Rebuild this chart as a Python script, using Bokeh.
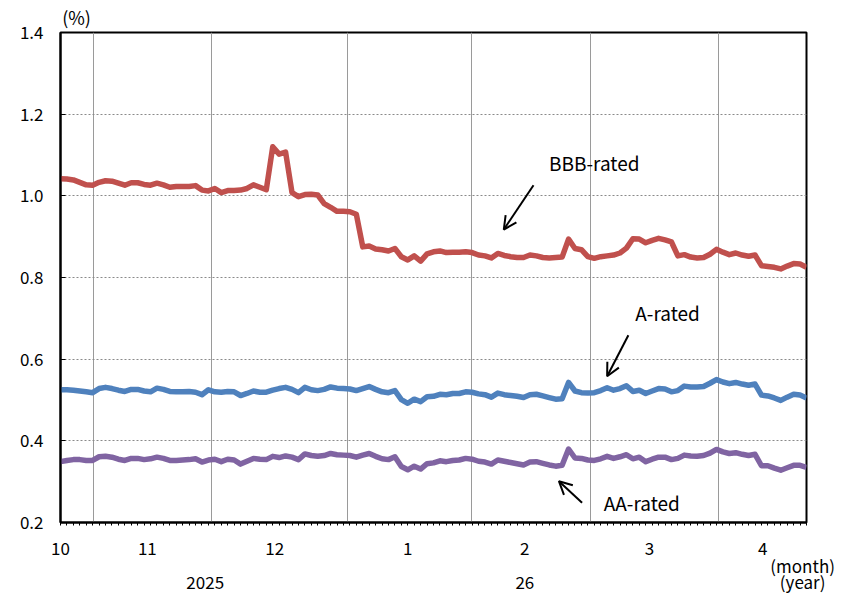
from bokeh.plotting import figure
from bokeh.models import FixedTicker, Range1d, Label, Arrow, OpenHead, NumeralTickFormatter, LinearAxis
from bokeh.embed import file_html
from bokeh.resources import INLINE

# ---- data (business-day series, Oct 2025 - Apr 2026) ----
bbb_rated = [1.042, 1.041, 1.039, 1.033, 1.027, 1.026, 1.033, 1.037, 1.036, 1.031,
             1.026, 1.032, 1.032, 1.028, 1.026, 1.031, 1.027, 1.021, 1.023, 1.023,
             1.023, 1.025, 1.014, 1.012, 1.018, 1.008, 1.013, 1.013, 1.014, 1.018,
             1.027, 1.021, 1.015, 1.120, 1.102, 1.107, 1.008, 0.998, 1.003, 1.004,
             1.002, 0.981, 0.972, 0.962, 0.962, 0.961, 0.955, 0.875, 0.877, 0.870,
             0.868, 0.865, 0.871, 0.851, 0.843, 0.853, 0.840, 0.858, 0.863, 0.865,
             0.861, 0.862, 0.862, 0.863, 0.861, 0.855, 0.853, 0.848, 0.859, 0.854,
             0.851, 0.849, 0.849, 0.855, 0.853, 0.849, 0.848, 0.849, 0.850, 0.894,
             0.871, 0.868, 0.851, 0.847, 0.851, 0.853, 0.855, 0.860, 0.872, 0.895,
             0.894, 0.885, 0.891, 0.896, 0.892, 0.887, 0.853, 0.856, 0.850, 0.848,
             0.849, 0.857, 0.869, 0.862, 0.856, 0.860, 0.855, 0.852, 0.855, 0.829,
             0.827, 0.825, 0.821, 0.828, 0.834, 0.833, 0.825]

a_rated = [0.525, 0.525, 0.524, 0.522, 0.520, 0.518, 0.528, 0.531, 0.528, 0.524,
           0.521, 0.526, 0.526, 0.522, 0.520, 0.529, 0.526, 0.521, 0.520, 0.520,
           0.521, 0.519, 0.513, 0.525, 0.520, 0.519, 0.521, 0.520, 0.511, 0.516,
           0.522, 0.519, 0.519, 0.524, 0.528, 0.531, 0.526, 0.518, 0.531, 0.525,
           0.523, 0.526, 0.532, 0.529, 0.528, 0.527, 0.523, 0.528, 0.533, 0.526,
           0.520, 0.518, 0.523, 0.501, 0.492, 0.502, 0.496, 0.508, 0.509, 0.514,
           0.513, 0.516, 0.516, 0.520, 0.519, 0.515, 0.513, 0.507, 0.517, 0.513,
           0.511, 0.509, 0.506, 0.513, 0.514, 0.510, 0.506, 0.502, 0.503, 0.543,
           0.522, 0.518, 0.517, 0.518, 0.523, 0.530, 0.524, 0.528, 0.535, 0.521,
           0.524, 0.516, 0.522, 0.528, 0.527, 0.520, 0.523, 0.534, 0.532, 0.532,
           0.533, 0.541, 0.550, 0.544, 0.540, 0.543, 0.539, 0.536, 0.539, 0.512,
           0.510, 0.505, 0.499, 0.507, 0.514, 0.512, 0.505]

aa_rated = [0.349, 0.352, 0.354, 0.354, 0.352, 0.352, 0.361, 0.362, 0.360, 0.355,
            0.352, 0.357, 0.357, 0.354, 0.356, 0.360, 0.357, 0.352, 0.352, 0.353,
            0.354, 0.356, 0.348, 0.353, 0.355, 0.349, 0.355, 0.353, 0.343, 0.350,
            0.357, 0.355, 0.354, 0.362, 0.359, 0.363, 0.360, 0.354, 0.368, 0.364,
            0.362, 0.364, 0.369, 0.366, 0.365, 0.364, 0.360, 0.365, 0.369, 0.362,
            0.356, 0.354, 0.361, 0.337, 0.329, 0.338, 0.331, 0.344, 0.346, 0.351,
            0.349, 0.352, 0.353, 0.357, 0.355, 0.350, 0.348, 0.343, 0.353, 0.350,
            0.347, 0.344, 0.341, 0.348, 0.349, 0.345, 0.341, 0.338, 0.340, 0.380,
            0.358, 0.357, 0.353, 0.352, 0.356, 0.362, 0.357, 0.361, 0.366, 0.356,
            0.360, 0.349, 0.355, 0.360, 0.360, 0.354, 0.357, 0.365, 0.363, 0.362,
            0.364, 0.370, 0.379, 0.373, 0.369, 0.371, 0.367, 0.364, 0.367, 0.339,
            0.339, 0.333, 0.328, 0.334, 0.340, 0.340, 0.335]

day_index = list(range(len(bbb_rated)))

month_labels = ["10", "11", "12", "1", "2", "3", "4"]
month_label_pos = [0.0, 13.5, 33.3, 54.0, 72.2, 91.6, 109.2]
month_bounds = [5.1, 23.5, 44.6, 63.9, 82.4, 102.3]
year_labels = ["2025", "26"]
year_label_pos = [22.5, 72.2]
month_unit_label = "(month)"
year_unit_label = "(year)"
unit_label_pos = 115.4
percent_label = "(%)"
percent_label_pos = 2.5
y_ticks = [0.2, 0.4, 0.6, 0.8, 1.0, 1.2, 1.4]

FONT = "Noto Sans CJK JP"

p = figure(frame_width=746, frame_height=490, output_backend="svg", toolbar_location=None,
           x_range=Range1d(0, len(day_index) - 1), y_range=Range1d(0.2, 1.4),
           min_border_left=60, min_border_right=35, min_border_top=10, min_border_bottom=10)
p.background_fill_color = "white"
p.border_fill_color = "white"
p.outline_line_color = "black"
p.outline_line_width = 2

# y axis
p.yaxis.ticker = FixedTicker(ticks=y_ticks)
p.yaxis.formatter = NumeralTickFormatter(format="0.0")
p.yaxis.major_tick_in = 5
p.yaxis.major_tick_out = 0
p.yaxis.minor_tick_line_color = None
p.yaxis.axis_line_width = 2
p.yaxis.axis_line_color = "black"
p.yaxis.major_tick_line_color = "black"
p.yaxis.major_label_standoff = 17
p.yaxis.major_label_text_font = FONT
p.yaxis.major_label_text_font_size = "17px"
p.yaxis.major_label_text_color = "black"

# x axis (months)
p.xaxis.ticker = FixedTicker(ticks=month_label_pos, minor_ticks=day_index)
p.xaxis.major_label_overrides = {pos: lab for pos, lab in zip(month_label_pos, month_labels)}
p.xaxis.major_tick_in = 0
p.xaxis.major_tick_out = 0
p.xaxis.minor_tick_in = 0
p.xaxis.minor_tick_out = 3
p.xaxis.minor_tick_line_color = "black"
p.xaxis.axis_line_width = 2
p.xaxis.axis_line_color = "black"
p.xaxis.major_label_standoff = 16
p.xaxis.major_label_text_font = FONT
p.xaxis.major_label_text_font_size = "17px"
p.xaxis.major_label_text_color = "black"


def text_axis(ticks, labels, standoff, size="17px"):
    ax = LinearAxis(ticker=FixedTicker(ticks=ticks, minor_ticks=[]),
                    major_label_overrides={t: l for t, l in zip(ticks, labels)})
    ax.axis_line_color = None
    ax.major_tick_line_color = None
    ax.minor_tick_line_color = None
    ax.major_tick_in = 0
    ax.major_tick_out = 0
    ax.minor_tick_in = 0
    ax.minor_tick_out = 0
    ax.major_label_standoff = standoff
    ax.major_label_text_font = FONT
    ax.major_label_text_font_size = size
    ax.major_label_text_color = "black"
    return ax


p.add_layout(text_axis([unit_label_pos], [month_unit_label], -5), "below")
p.add_layout(text_axis(year_label_pos + [unit_label_pos], year_labels + [year_unit_label], -12), "below")
p.add_layout(text_axis([percent_label_pos], [percent_label], 3, size="18px"), "above")

# grids
p.xgrid.ticker = FixedTicker(ticks=month_bounds)
p.xgrid.grid_line_color = "#9a9a9a"
p.xgrid.grid_line_width = 1
p.ygrid.ticker = FixedTicker(ticks=[0.4, 0.6, 0.8, 1.0, 1.2])
p.ygrid.grid_line_color = "#8a8a8a"
p.ygrid.grid_line_dash = "2 2"
p.ygrid.grid_line_width = 1

# series
p.line(day_index, bbb_rated, line_color="#C0504D", line_width=5.5, line_join="round")
p.line(day_index, a_rated, line_color="#4F81BD", line_width=5.5, line_join="round")
p.line(day_index, aa_rated, line_color="#8064A2", line_width=5.5, line_join="round")


def add_label(x, y, text, size="19px"):
    p.add_layout(Label(x=x, y=y, text=text, text_align="center", text_baseline="middle",
                       text_font=FONT, text_font_size=size, text_color="black"))


add_label(83.0, 1.082, "BBB-rated")
add_label(94.4, 0.714, "A-rated")
add_label(90.4, 0.249, "AA-rated")

for xs, ys, xe, ye in [(73.55, 1.026, 68.93, 0.9175),
                       (88.3, 0.6586, 85.0, 0.5582),
                       (81.1, 0.2482, 77.5, 0.3011)]:
    p.add_layout(Arrow(end=OpenHead(size=13, line_width=2, line_color="black"),
                       x_start=xs, y_start=ys, x_end=xe, y_end=ye,
                       line_width=2, line_color="black"))

open("out.html", "w").write(file_html(p, INLINE))
